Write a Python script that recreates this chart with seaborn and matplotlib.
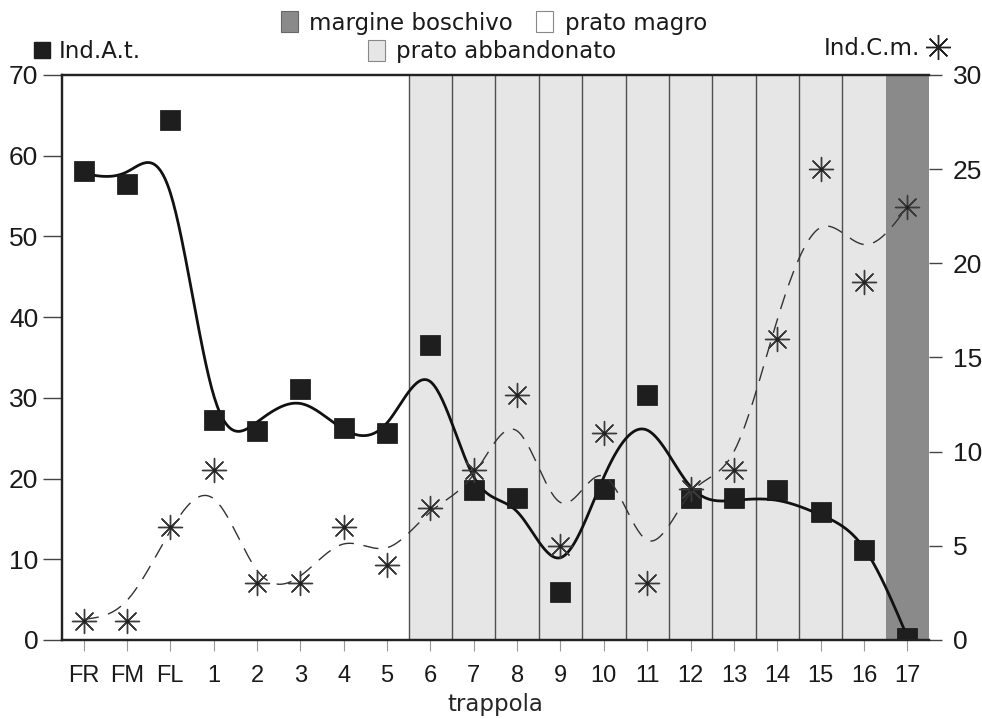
import matplotlib
matplotlib.use("Agg")
import matplotlib.pyplot as plt
from matplotlib.patches import Patch
from matplotlib.lines import Line2D
import numpy as np
import pandas as pd
import seaborn as sns

# categories on the x axis (trap positions)
trappola = ['FR', 'FM', 'FL', '1', '2', '3', '4', '5', '6', '7', '8', '9',
            '10', '11', '12', '13', '14', '15', '16', '17']

# Ind.A.t. (left axis) points and the smoothed trend
ind_at = [58.1, 56.5, 64.4, 27.3, 25.9, 31.1, 26.3, 25.6, 36.6, 18.6,
          17.6, 5.9, 18.7, 30.3, 17.6, 17.6, 18.6, 15.9, 11.1, 0.3]
ind_at_trend = [57.8, 58.0, 55.4, 30.3, 27.0, 29.3, 26.1, 26.9, 32.0, 20.2,
                15.9, 10.2, 20.2, 26.0, 19.0, 17.3, 17.3, 15.5, 11.4, 0.4]

# Ind.C.m. (right axis) points and the dashed trend
ind_cm = [1, 1, 6, 9, 3, 3, 6, 4, 7, 9, 13, 5, 11, 3, 8, 9, 16, 25, 19, 23]
ind_cm_trend = [1.1, 2.1, 5.8, 7.5, 3.7, 3.4, 5.1, 4.9, 6.8, 8.8,
                11.1, 7.3, 8.7, 5.3, 7.8, 10.0, 17.0, 21.9, 21.0, 23.0]

# habitat bands: (first category, last category)
prato_abbandonato = ('6', '16')
margine_boschivo = ('17', '17')


def natural_spline(x, y, xs):
    # plain natural cubic spline, used only to draw the smooth trend lines
    x = np.asarray(x, float)
    y = np.asarray(y, float)
    n = len(x)
    h = np.diff(x)
    A = np.zeros((n, n))
    r = np.zeros(n)
    A[0, 0] = A[-1, -1] = 1
    for i in range(1, n - 1):
        A[i, i - 1] = h[i - 1]
        A[i, i] = 2 * (h[i - 1] + h[i])
        A[i, i + 1] = h[i]
        r[i] = 3 * ((y[i + 1] - y[i]) / h[i] - (y[i] - y[i - 1]) / h[i - 1])
    c = np.linalg.solve(A, r)
    b = (y[1:] - y[:-1]) / h - h * (2 * c[:-1] + c[1:]) / 3
    d = (c[1:] - c[:-1]) / (3 * h)
    idx = np.clip(np.searchsorted(x, xs) - 1, 0, n - 2)
    t = xs - x[idx]
    return y[idx] + b[idx] * t + c[idx] * t ** 2 + d[idx] * t ** 3


pos = np.arange(len(trappola))
df = pd.DataFrame({'pos': pos, 'at': ind_at, 'cm': ind_cm})
xs = np.linspace(pos[0], pos[-1], 600)
curve = pd.DataFrame({'pos': xs,
                      'at': natural_spline(pos, ind_at_trend, xs),
                      'cm': natural_spline(pos, ind_cm_trend, xs)})

sns.set_style('white')
plt.rcParams['font.family'] = ['Liberation Sans', 'DejaVu Sans']
plt.rcParams['text.color'] = '#1a1a1a'
plt.rcParams['xtick.labelcolor'] = '#1a1a1a'
plt.rcParams['ytick.labelcolor'] = '#1a1a1a'
wide = ['DejaVu Sans']

fig = plt.figure(figsize=(9.82, 7.19), dpi=100)
ax = fig.add_axes([0.0631, 0.1099, 0.8829, 0.7858])
ax2 = ax.twinx()

# background bands
i0 = trappola.index(prato_abbandonato[0]) - 0.5
i1 = trappola.index(prato_abbandonato[1]) + 0.5
ax.axvspan(i0, i1, color='#e6e6e6', lw=0, zorder=0)
j0 = trappola.index(margine_boschivo[0]) - 0.5
j1 = trappola.index(margine_boschivo[1]) + 0.5
ax.axvspan(j0, j1, color='#8a8a8a', lw=0, zorder=0)
for v in np.arange(i0, i1, 1.0):
    ax.axvline(v, color='#505050', lw=1.0, zorder=1)

# Ind.A.t.
sns.lineplot(data=curve, x='pos', y='at', ax=ax, color='#111111', lw=2.0, zorder=3)
sns.scatterplot(data=df, x='pos', y='at', ax=ax, marker='s', s=190,
                color='#1e1e1e', edgecolor='#111111', linewidth=0.5, zorder=4)

# Ind.C.m.
sns.lineplot(data=curve, x='pos', y='cm', ax=ax2, color='#333333', lw=1.0, zorder=3)
ax2.lines[-1].set_dashes((11, 7))
sns.scatterplot(data=df, x='pos', y='cm', ax=ax2, marker=(8, 2, 0), s=300,
                color='#3a3a3a', linewidth=1.0, zorder=4)
sns.scatterplot(data=df, x='pos', y='cm', ax=ax2, marker='o', s=8,
                color='#222222', linewidth=0, zorder=5)

ax.set_xlim(-0.5, len(trappola) - 0.5)
ax.set_ylim(0, 70)
ax2.set_ylim(0, 30)
ax.set_yticks(range(0, 71, 10))
ax2.set_yticks(range(0, 31, 5))
ax.set_xticks(pos)
ax.set_xticklabels(trappola)
ax.set_xlabel('trappola', fontsize=16.5, labelpad=4, family=wide)
ax.set_ylabel('')
ax2.set_ylabel('')

ax.tick_params(axis='y', direction='out', length=14, width=1.0, color='#444444',
               labelsize=19, pad=3, left=True)
ax2.tick_params(axis='y', direction='out', length=9, width=1.0, color='#444444',
                labelsize=19, pad=8, right=True)
ax.tick_params(axis='x', direction='out', length=8, width=0.8, color='#999999',
               labelsize=17, pad=10, bottom=True)

for a in (ax, ax2):
    for s in a.spines.values():
        s.set_color('#222222')
        s.set_linewidth(1.6)
    a.spines['right'].set_visible(False)
ax2.patch.set_visible(False)

# legends
leg_font = {'family': wide, 'size': 16.5}
h_at = Line2D([], [], marker='s', color='#1e1e1e', lw=0, markersize=12)
fig.legend(handles=[h_at], labels=['Ind.A.t.'], loc='center left',
           bbox_to_anchor=(0.012, 0.929), frameon=False, prop=leg_font,
           handletextpad=0.35, handlelength=0.8)
h_cm = Line2D([], [], marker=(8, 2, 0), color='#222222', lw=0, markersize=18,
              markeredgewidth=1.0)
fig.legend(handles=[h_cm], labels=['Ind.C.m.'], loc='center right',
           bbox_to_anchor=(0.988, 0.932), frameon=False, prop=leg_font,
           markerfirst=False, handletextpad=0.3, handlelength=1.0)

p_mb = Patch(facecolor='#8a8a8a', edgecolor='#666666', lw=0.8)
p_pm = Patch(facecolor='white', edgecolor='#888888', lw=0.8)
p_pa = Patch(facecolor='#e6e6e6', edgecolor='#888888', lw=0.8)
fig.legend(handles=[p_mb, p_pm], labels=['margine boschivo', 'prato magro'],
           loc='center', bbox_to_anchor=(0.503, 0.968), ncol=2, frameon=False,
           prop=leg_font, handlelength=0.75, handleheight=1.0, handletextpad=0.5,
           columnspacing=1.0)
fig.legend(handles=[p_pa], labels=['prato abbandonato'],
           loc='center', bbox_to_anchor=(0.501, 0.928), frameon=False,
           prop=leg_font, handlelength=0.75, handleheight=1.0, handletextpad=0.5)

fig.savefig('out.png', dpi=100)
